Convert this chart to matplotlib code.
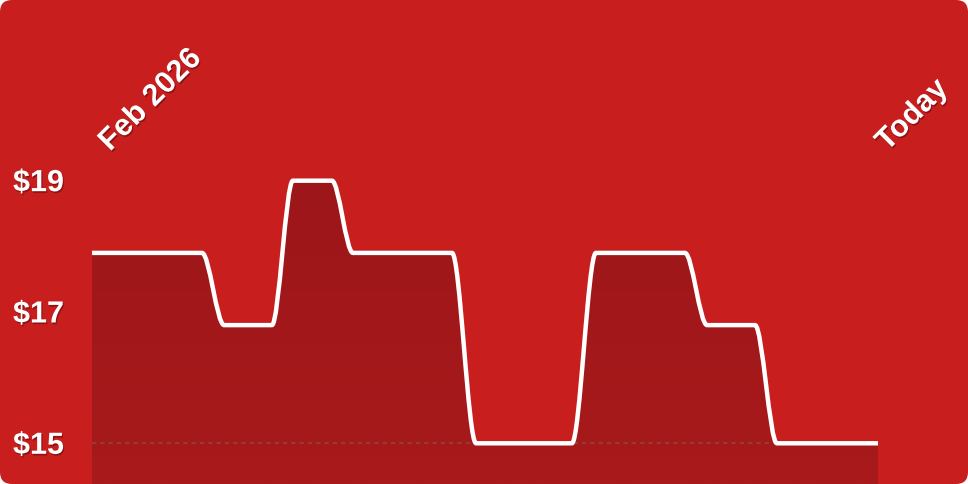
import matplotlib
matplotlib.use("Agg")
import matplotlib.pyplot as plt
import matplotlib.patheffects as pe
import matplotlib.transforms as mtransforms
import numpy as np
from matplotlib.colors import LinearSegmentedColormap
from matplotlib.patches import FancyBboxPatch, PathPatch
from matplotlib.path import Path

# price history (days since start of Feb 2026)
days = [0, 5.04, 6.05, 8.24, 9.20, 10.99, 11.95, 16.49, 17.59,
        21.98, 23.08, 27.16, 28.17, 30.37, 31.37, 36]
prices = [17.90, 17.90, 16.80, 16.80, 19.00, 19.00, 17.90, 17.90, 15.00,
          15.00, 17.90, 17.90, 16.80, 16.80, 15.00, 15.00]

y_ticks = [19, 17, 15]
y_tick_labels = ["$19", "$17", "$15"]
x_label_pos = [0, 36]
x_labels = ["Feb 2026", "Today"]
baseline_price = 15

W, H, DPI = 968, 484, 100
CARD = "#C81E1E"
FILL_TOP = "#9D1619"
FILL_BOT = "#A81A1C"
FONT = ["Liberation Sans", "DejaVu Sans"]
FS = 22

XLIM = (-4.214, 40.122)
YLIM = (14.380, 21.752)
PX_PER_DAY = 786 / 36
PX_PER_USD = 65.65


def monotone_tangents(x, y):
    # same slopes as d3.curveMonotoneX
    x = np.asarray(x, float)
    y = np.asarray(y, float)
    n = len(x)
    t = np.zeros(n)
    h = np.diff(x)
    s = np.diff(y) / h
    for i in range(1, n - 1):
        h0, h1, s0, s1 = h[i - 1], h[i], s[i - 1], s[i]
        p = (s0 * h1 + s1 * h0) / (h0 + h1)
        t[i] = (np.sign(s0) + np.sign(s1)) * min(abs(s0), abs(s1), 0.5 * abs(p)) or 0
    t[0] = (3 * s[0] - t[1]) / 2
    t[-1] = (3 * s[-1] - t[-2]) / 2
    return t


def curve_path(x, y):
    t = monotone_tangents(x, y)
    verts = [(x[0], y[0])]
    codes = [Path.MOVETO]
    for i in range(len(x) - 1):
        dx = (x[i + 1] - x[i]) / 3
        verts += [(x[i] + dx, y[i] + dx * t[i]),
                  (x[i + 1] - dx, y[i + 1] - dx * t[i + 1]),
                  (x[i + 1], y[i + 1])]
        codes += [Path.CURVE4] * 3
    return verts, codes


fig = plt.figure(figsize=(W / DPI, H / DPI), dpi=DPI, facecolor="white")
card = FancyBboxPatch((0, 0), W, H, boxstyle="round,pad=0,rounding_size=12",
                      transform=mtransforms.IdentityTransform(),
                      facecolor=CARD, edgecolor="none", zorder=-5)
fig.patches.append(card)

ax = fig.add_axes([0, 0, 1, 1])
ax.set_facecolor("none")
ax.set_xlim(*XLIM)
ax.set_ylim(*YLIM)
ax.axis("off")

verts, codes = curve_path(days, prices)

# area under the curve, with a soft vertical gradient
fill_verts = verts + [(days[-1], YLIM[0]), (days[0], YLIM[0]), (days[0], prices[0])]
fill_codes = codes + [Path.LINETO, Path.LINETO, Path.CLOSEPOLY]
clip = PathPatch(Path(fill_verts, fill_codes), facecolor="none", edgecolor="none",
                 transform=ax.transData)
ax.add_patch(clip)
cmap = LinearSegmentedColormap.from_list("fill", [FILL_BOT, FILL_TOP])
grad = np.linspace(0, 1, 256).reshape(-1, 1)
im = ax.imshow(grad, extent=[days[0], days[-1], YLIM[0], max(prices)], origin="lower",
               cmap=cmap, aspect="auto", interpolation="bilinear", zorder=1)
im.set_clip_path(clip)

ax.plot([days[0], days[-1]], [baseline_price, baseline_price], color="#934040",
        lw=1.3, dashes=(2.3, 2.3), zorder=2)

ax.add_patch(PathPatch(Path(verts, codes), facecolor="none", edgecolor="white",
                       lw=3.2, capstyle="butt", joinstyle="round", zorder=3))

shadow = [pe.withSimplePatchShadow(offset=(0.8, -1.2), shadow_rgbFace="#3a0000", alpha=0.4)]
label_tf = mtransforms.blended_transform_factory(fig.transFigure, ax.transData)
for val, lab in zip(y_ticks, y_tick_labels):
    ax.text(13 / W, val - 10.5 / PX_PER_USD, lab, transform=label_tf, ha="left",
            va="baseline", color="white", fontsize=FS, fontweight="bold",
            family=FONT, path_effects=shadow, zorder=4)

# rotated date labels, nudged right of their tick
for xp, lab, dx_px in zip(x_label_pos, x_labels, [18, 9]):
    ax.text(xp + dx_px / PX_PER_DAY, 19 + (180.7 - 152) / PX_PER_USD, lab,
            rotation=45, rotation_mode="anchor", ha="left", va="baseline",
            color="white", fontsize=FS, fontweight="bold", family=FONT,
            path_effects=shadow, zorder=4)

fig.savefig("out.png", dpi=DPI, facecolor="white")
